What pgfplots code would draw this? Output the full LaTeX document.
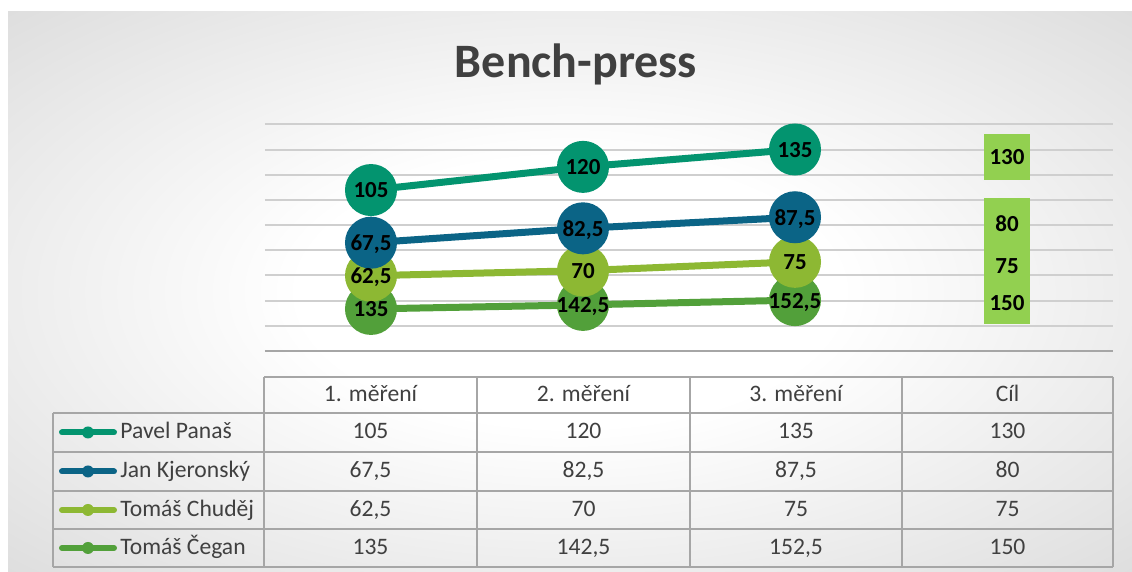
\documentclass[border=0pt]{standalone}
\usepackage{pgfplots}
\pgfplotsset{compat=1.18}
\usepackage{pgfplotstable}
\usepackage{fontspec}
\setmainfont{Carlito}
\definecolor{cPavel}{HTML}{03946F}
\definecolor{cJan}{HTML}{0B6486}
\definecolor{cChudej}{HTML}{8DB833}
\definecolor{cCegan}{HTML}{52A03A}
\definecolor{cBar}{HTML}{92D050}
\definecolor{txt}{HTML}{404040}
\definecolor{tline}{HTML}{A6A6A6}
\definecolor{gridc}{HTML}{CFCFCF}
\pgfdeclareradialshading{bgshade}{\pgfpoint{0bp}{0bp}}{color(0bp)=(white); color(12bp)=(white); color(50bp)=(black!21); color(72bp)=(black!26)}

% positions of the points in the plot (grid units) and their values
\pgfplotstableread{
x y label
0 6.39 105
1 7.31 120
2 8.00 135
}\pavel
\pgfplotstableread{
x y label
0 4.30 67,5
1 4.87 82,5
2 5.31 87,5
}\jan
\pgfplotstableread{
x y label
0 2.99 62,5
1 3.19 70
2 3.54 75
}\chudej
\pgfplotstableread{
x y label
0 1.67 135
1 1.83 142,5
2 2.02 152,5
}\cegan
\pgfplotstableread{
x y label
3 7.70 130
3 5.07 80
3 3.41 75
3 1.92 150
}\cil

\begin{document}
\begin{tikzpicture}[x=0.5pt,y=0.5pt]
\fill[white] (0,0) rectangle (1132,572);
\shade[shading=bgshade] (8,0) rectangle (1132,560);
\node[anchor=base, font=\fontsize{24}{28}\selectfont\bfseries, text=txt] at (576,494) {Bench-press};

\begin{axis}[
  at={(132.5pt,110.5pt)}, anchor=south west,
  scale only axis, width=424pt, height=113.35pt,
  xmin=-0.5, xmax=3.5, ymin=0, ymax=9,
  axis line style={draw=none}, tick style={draw=none},
  xtick=\empty, ytick={1,...,9}, yticklabels={,,,,,,,,},
  ymajorgrids, major grid style={draw=gridc, line width=1pt},
  clip=false,
  every node near coord/.append style={anchor=center, yshift=-0.8pt, text height=0.63em, text depth=0pt, inner sep=0pt, font=\bfseries\fontsize{11.5}{12}\selectfont, text=black},
]
\draw[tline, line width=1pt] (axis cs:-0.5,0) -- (axis cs:3.5,0);
% target columns
\addplot[fill=cBar, draw=none] coordinates {(2.892,6.79) (3.108,6.79) (3.108,8.61) (2.892,8.61)} -- cycle;
\addplot[fill=cBar, draw=none] coordinates {(2.892,1.07) (3.108,1.07) (3.108,6.07) (2.892,6.07)} -- cycle;
% lines
\addplot[cCegan, line width=3.5pt, mark=*, mark size=11.25pt, mark options={draw=none, fill=cCegan}] table[x=x,y=y] {\cegan};
\addplot[cChudej, line width=3.5pt, mark=*, mark size=11.25pt, mark options={draw=none, fill=cChudej}] table[x=x,y=y] {\chudej};
\addplot[cJan, line width=3.5pt, mark=*, mark size=11.25pt, mark options={draw=none, fill=cJan}] table[x=x,y=y] {\jan};
\addplot[cPavel, line width=3.5pt, mark=*, mark size=11.25pt, mark options={draw=none, fill=cPavel}] table[x=x,y=y] {\pavel};
% labels
\addplot[draw=none, mark=none, nodes near coords, point meta=explicit symbolic] table[x=x,y=y,meta=label] {\cegan};
\addplot[draw=none, mark=none, nodes near coords, point meta=explicit symbolic] table[x=x,y=y,meta=label] {\chudej};
\addplot[draw=none, mark=none, nodes near coords, point meta=explicit symbolic] table[x=x,y=y,meta=label] {\jan};
\addplot[draw=none, mark=none, nodes near coords, point meta=explicit symbolic] table[x=x,y=y,meta=label] {\pavel};
\addplot[draw=none, mark=none, nodes near coords, point meta=explicit symbolic] table[x=x,y=y,meta=label] {\cil};
\end{axis}

% data table
\begin{scope}[tline, line width=1pt]
\draw (264,195) -- (1113,195);
\foreach \yy in {159,120,81,43,5} \draw (53,\yy) -- (1113,\yy);
\draw (53,159) -- (53,5);
\foreach \xx in {264,477,690,902,1113} \draw (\xx,195) -- (\xx,5);
\end{scope}
\begin{scope}[every node/.style={font=\fontsize{11.8}{13}\selectfont, text=txt, inner sep=0pt, text height=0.63em, text depth=0pt}]
\node at (370.5,177) {1. měření};
\node at (583.5,177) {2. měření};
\node at (796,177) {3. měření};
\node at (1007.5,177) {Cíl};
\foreach \c/\yy/\n/\a/\b/\cc/\d in {cPavel/139.5/Pavel Panaš/105/120/135/130,
  cJan/100.5/Jan Kjeronský/{67,5}/{82,5}/{87,5}/80,
  cChudej/62/Tomáš Chuděj/{62,5}/70/75/75,
  cCegan/24/Tomáš Čegan/135/{142,5}/{152,5}/150}{
  \draw[\c, line width=3pt, line cap=round] (62,\yy) -- (114,\yy);
  \fill[\c] (88,\yy) circle (6);
  \node[anchor=west] at (120,\yy) {\n};
  \node at (370.5,\yy) {\a};
  \node at (583.5,\yy) {\b};
  \node at (796,\yy) {\cc};
  \node at (1007.5,\yy) {\d};
}
\end{scope}
\end{tikzpicture}
\end{document}
